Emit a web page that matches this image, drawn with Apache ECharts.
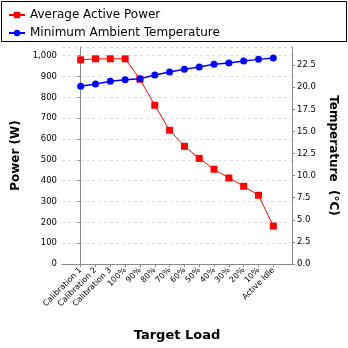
<!DOCTYPE html>
<html><head><meta charset="utf-8">
<script src="https://cdn.jsdelivr.net/npm/echarts@6/dist/echarts.min.js"></script>
<style>html,body{margin:0;padding:0;background:#fff}#c{width:348px;height:348px}</style>
</head><body><div id="c"></div>
<script>
const categories = ['Calibration 1','Calibration 2','Calibration 3','100%','90%','80%','70%','60%','50%','40%','30%','20%','10%','Active Idle'];
const powerValues = [980, 985, 985, 985, 887, 762, 642, 565, 507, 455, 413, 373, 330, 182];
const tempValues = [20.1, 20.36, 20.67, 20.85, 20.96, 21.38, 21.72, 22.02, 22.28, 22.59, 22.74, 22.96, 23.15, 23.3];
const seriesNames = ['Average Active Power', 'Minimum Ambient Temperature'];

const idx = categories.map((_, i) => i);
const font = 'DejaVu Sans';
const chart = echarts.init(document.getElementById('c'), null, {renderer: 'canvas'});
chart.setOption({
  animation: false,
  textStyle: {fontFamily: font},
  graphic: [{type: 'rect', shape: {x: 1.5, y: 1.5, width: 345, height: 40}, style: {fill: 'none', stroke: '#000', lineWidth: 1}}],
  legend: {
    orient: 'vertical', left: 3, top: 4, itemGap: 6, itemWidth: 16, itemHeight: 8,
    textStyle: {fontFamily: font, fontSize: 12, color: '#000'},
    data: seriesNames
  },
  grid: {left: 62, right: 56, top: 47, bottom: 84},
  xAxis: {
    type: 'value', min: -1.26, max: 14.26,
    name: 'Target Load', nameLocation: 'middle', nameGap: 65,
    nameTextStyle: {fontFamily: font, fontSize: 13, fontWeight: 'bold', color: '#000'},
    axisLine: {lineStyle: {color: '#888'}},
    axisTick: {show: true, customValues: idx, length: 3, lineStyle: {color: '#888'}},
    axisLabel: {customValues: idx, rotate: 45, fontSize: 8, color: '#000', margin: 5, fontFamily: font,
      formatter: v => categories[Math.round(v)]},
    splitLine: {show: false}
  },
  yAxis: [{
    type: 'value', min: 0, max: 1041.7, interval: 100,
    name: 'Power (W)', nameLocation: 'middle', nameGap: 39, nameRotate: 90,
    nameTextStyle: {fontFamily: font, fontSize: 12, fontWeight: 'bold', color: '#000'},
    axisLine: {show: true, lineStyle: {color: '#888'}},
    axisTick: {show: true, length: 3, lineStyle: {color: '#888'}},
    axisLabel: {fontSize: 8.5, color: '#000', margin: 5, fontFamily: font,
      formatter: v => v > 1040 ? '' : v.toLocaleString('en-US'), showMaxLabel: false},
    splitLine: {show: true, lineStyle: {color: '#ddd', type: [3, 3]}}
  }, {
    type: 'value', min: 0, max: 24.55, interval: 2.5,
    name: 'Temperature  (°C)', nameLocation: 'middle', nameGap: 30, nameRotate: -90,
    nameTextStyle: {fontFamily: font, fontSize: 12, fontWeight: 'bold', color: '#000'},
    axisLine: {show: true, lineStyle: {color: '#888'}},
    axisTick: {show: true, length: 3, lineStyle: {color: '#888'}},
    axisLabel: {fontSize: 8.5, color: '#000', margin: 5, fontFamily: font,
      formatter: v => v > 24 ? '' : v.toFixed(1), showMaxLabel: false},
    splitLine: {show: false}
  }],
  series: [{
    name: seriesNames[0], type: 'line', yAxisIndex: 0,
    data: powerValues.map((v, i) => [i, v]),
    symbol: 'rect', symbolSize: 7,
    itemStyle: {color: '#ff0000'}, lineStyle: {color: '#ff0000', width: 1}
  }, {
    name: seriesNames[1], type: 'line', yAxisIndex: 1,
    data: tempValues.map((v, i) => [i, v]),
    symbol: 'circle', symbolSize: 7,
    itemStyle: {color: '#0000ff'}, lineStyle: {color: '#0000ff', width: 1.5}
  }]
});
</script></body></html>
